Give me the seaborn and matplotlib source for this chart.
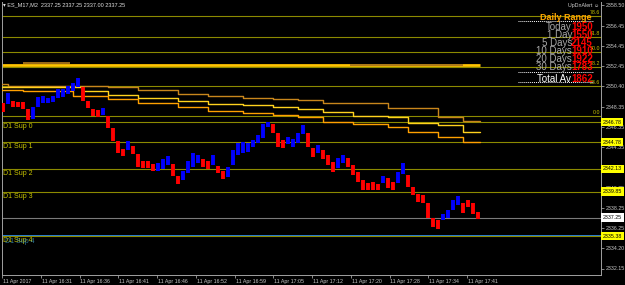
import matplotlib
matplotlib.use("Agg")
import matplotlib.pyplot as plt
import matplotlib.transforms as mtrans
from matplotlib.lines import Line2D
import seaborn as sns

# ---------------- data ----------------
bar_high = [2348.7, 2349.7, 2348.9, 2348.8, 2348.8, 2348.1, 2348.3, 2349.3, 2349.4, 2349.2,
            2349.4, 2350.1, 2350.1, 2350.4, 2350.7, 2351.2, 2350.3, 2348.9, 2348.1, 2348.0,
            2348.2, 2347.4, 2346.2, 2344.9, 2344.1, 2344.9, 2344.4, 2343.6, 2342.9, 2342.9,
            2342.6, 2342.7, 2343.1, 2343.4, 2342.6, 2341.4, 2341.9, 2342.9, 2343.7, 2343.5,
            2343.1, 2342.9, 2343.5, 2342.4, 2341.9, 2342.3, 2344.0, 2344.7, 2344.8, 2344.7,
            2345.0, 2345.5, 2346.6, 2346.8, 2346.6, 2345.7, 2345.0, 2345.3, 2345.1, 2345.7,
            2346.5, 2345.7, 2344.2, 2344.5, 2344.0, 2343.5, 2342.8, 2343.2, 2343.5, 2343.2,
            2342.5, 2341.8, 2341.0, 2340.7, 2340.8, 2340.6, 2341.4, 2341.2, 2340.8, 2341.8,
            2342.7, 2341.5, 2340.3, 2339.6, 2339.5, 2338.7, 2337.2, 2337.0, 2337.6, 2338.0,
            2339.0, 2339.4, 2338.7, 2339.0, 2338.7, 2337.8]
bar_low = [2347.8, 2348.6, 2348.3, 2348.3, 2348.1, 2347.0, 2347.1, 2348.3, 2348.7, 2348.7,
           2348.8, 2349.2, 2349.3, 2349.6, 2349.9, 2350.3, 2348.9, 2348.2, 2347.4, 2347.3,
           2347.5, 2346.2, 2344.9, 2343.7, 2343.4, 2344.0, 2343.6, 2342.3, 2342.2, 2342.2,
           2341.9, 2341.9, 2342.1, 2342.5, 2341.4, 2340.6, 2341.0, 2341.7, 2342.3, 2342.7,
           2342.3, 2342.1, 2342.5, 2341.7, 2341.1, 2341.3, 2342.5, 2343.5, 2343.7, 2343.8,
           2344.3, 2344.7, 2345.2, 2346.3, 2345.7, 2344.3, 2344.2, 2344.6, 2344.3, 2344.7,
           2345.6, 2344.3, 2343.3, 2343.7, 2343.1, 2342.5, 2341.8, 2342.2, 2342.7, 2342.3,
           2341.5, 2340.8, 2340.0, 2340.0, 2340.0, 2340.0, 2340.7, 2340.2, 2340.0, 2340.7,
           2341.6, 2340.3, 2339.5, 2338.8, 2338.7, 2337.2, 2336.3, 2336.1, 2337.0, 2337.2,
           2338.0, 2338.5, 2337.7, 2338.3, 2337.6, 2337.1]
bar_up = [0, 1, 0, 0, 0, 0, 1, 1, 1, 1,
          1, 1, 1, 1, 1, 1, 0, 0, 0, 0,
          1, 0, 0, 0, 0, 1, 0, 0, 0, 0,
          0, 1, 1, 1, 0, 0, 1, 1, 1, 1,
          0, 0, 1, 0, 0, 1, 1, 1, 1, 1,
          1, 1, 1, 1, 0, 0, 0, 1, 1, 1,
          1, 0, 0, 1, 0, 0, 0, 1, 1, 0,
          0, 0, 0, 0, 0, 0, 1, 0, 0, 1,
          1, 0, 0, 0, 0, 0, 0, 0, 1, 1,
          1, 1, 0, 0, 0, 0]

line_a_start = [-0.5, 1, 21, 27, 35, 41, 48, 54, 59, 64, 77, 87, 92]
line_a_level = [2350.6, 2350.4, 2350.3, 2350.0, 2349.6, 2349.4, 2349.2, 2349.1, 2349.0,
                2348.7, 2348.2, 2347.3, 2346.9]
line_b_start = [-0.5, 2, 16, 21, 27, 35, 41, 48, 54, 59, 64, 70, 77, 81, 87, 92]
line_b_level = [2350.3, 2350.35, 2349.9, 2349.5, 2349.2, 2348.9, 2348.6, 2348.5, 2348.3,
                2348.1, 2347.8, 2347.4, 2347.3, 2346.7, 2346.5, 2345.8]
line_c_start = [-0.5, 4, 14, 21, 27, 35, 41, 48, 54, 59, 64, 70, 77, 81, 87, 92]
line_c_level = [2350.0, 2349.9, 2349.4, 2349.1, 2348.7, 2348.3, 2347.9, 2347.7, 2347.5,
                2347.3, 2346.8, 2346.65, 2346.35, 2345.8, 2345.3, 2344.8]
lines_end = 95.5

day_high_level = 2352.55
brown_segments = [(4, 13.5, 2352.68), (69.5, 92, 2352.5)]

fib_levels = [2357.4, 2355.3, 2353.8, 2352.3, 2350.4, 2347.4]
fib_labels = ["78.6", "61.8", "50.0", "38.2", "23.6", "0.0"]

sup_levels = [2346.78, 2344.78, 2342.13, 2339.85, 2335.38]
sup_labels = ["D1 Sup 0", "D1 Sup 1", "D1 Sup 2", "D1 Sup 3", "D1 Sup 4"]
sup_tags = ["2346.78", "2344.78", "2342.13", "2339.85", "2335.38"]

current_price = 2337.25
current_tag = "2337.25"

y_ticks = [2358.50, 2356.45, 2354.45, 2352.45, 2350.40, 2348.35, 2346.35, 2344.35,
           2342.30, 2340.25, 2338.25, 2336.25, 2334.20, 2332.15]
x_tick_labels = ["11 Apr 2017", "11 Apr 16:31", "11 Apr 16:36", "11 Apr 16:41",
                 "11 Apr 16:46", "11 Apr 16:52", "11 Apr 16:59", "11 Apr 17:05",
                 "11 Apr 17:12", "11 Apr 17:20", "11 Apr 17:28", "11 Apr 17:34",
                 "11 Apr 17:41"]

range_labels = ["Today", "1 Day", "5 Days", "10 Days", "20 Days", "30 Days"]
range_values = ["1950", "1550", "2145", "1910", "1922", "1783"]
total_label = "Total Av"
total_value = "1862"

title_text = "\u25be ES_M17,M2  2337.25 2337.25 2337.00 2337.25"
alert_text = "UpDnAlert \u263a"

# ---------------- style ----------------
sns.set_theme(style="dark")
plt.rcParams['font.family'] = ['Liberation Sans', 'DejaVu Sans']

W, H = 625, 285
fig = plt.figure(figsize=(W / 100, H / 100), dpi=100, facecolor='black')
ax = fig.add_axes([2 / W, 1 - 275 / H, 599 / W, 273 / H])
ax.set_facecolor('black')

def fx(px):
    return px / W

def fy(py):
    return 1 - py / H

olive = '#8c8a00'
label_yel = '#c8c400'
axis_gray = '#a0a0a0'

# horizontal levels
for lv in fib_levels:
    ax.axhline(lv, color=olive, lw=0.8, zorder=1)
for lv in sup_levels:
    ax.axhline(lv, color=olive, lw=0.8, zorder=1)
ax.axhline(sup_levels[-1] + 0.12, color='#2a7fd0', lw=0.7, zorder=1)
ax.axhline(current_price, color='#7a7a7a', lw=0.8, zorder=1)

# day-high line
ax.plot([-0.5, lines_end], [day_high_level, day_high_level], color='#ffc400', lw=2.0, zorder=2,
        solid_capstyle='butt')
for s, e, lv in brown_segments:
    ax.plot([s, e], [lv, lv], color='#a8741a', lw=1.3, zorder=3, solid_capstyle='butt')

# stepped indicator lines
for starts, levels, col in [(line_a_start, line_a_level, '#c8861c'),
                            (line_b_start, line_b_level, '#ffd21e'),
                            (line_c_start, line_c_level, '#ffa000')]:
    xs = list(starts) + [lines_end]
    ys = list(levels) + [levels[-1]]
    sns.lineplot(x=xs, y=ys, ax=ax, color=col, lw=1.0, drawstyle='steps-post',
                 estimator=None, sort=False, zorder=3)

# price bars
idx = list(range(len(bar_high)))
cols = ['#0000ff' if u else '#ff0000' for u in bar_up]
ax.vlines(idx, bar_low, bar_high, colors=cols, linewidth=2.8, zorder=4)

# axes limits
ax.set_xlim(-0.1, 119.7)
ax.set_ylim(2331.5, 2358.8)

# spines
for side in ['left', 'bottom', 'right', 'top']:
    ax.spines[side].set_color(axis_gray)
    ax.spines[side].set_linewidth(0.7)
ax.spines['top'].set_visible(False)

# y ticks on right
ax.yaxis.tick_right()
ax.set_yticks(y_ticks)
ax.set_yticklabels([f"{v:.2f}" for v in y_ticks])
ax.tick_params(axis='y', which='both', right=True, left=False, labelright=True, labelleft=False,
               direction='out', length=2, width=0.6, color=axis_gray, labelsize=3.8,
               labelcolor='#c8c8c8', pad=1.5)

# x ticks
x_pos = [-0.1 + 7.75 * k for k in range(len(x_tick_labels))]
ax.set_xticks(x_pos)
ax.set_xticklabels(x_tick_labels, ha='left')
ax.tick_params(axis='x', which='both', bottom=True, direction='out', length=2, width=0.6,
               color=axis_gray, labelsize=3.8, labelcolor='#c8c8c8', pad=1.0)
off = mtrans.ScaledTranslation(1 / 100, 0, fig.dpi_scale_trans)
for lbl in ax.get_xticklabels():
    lbl.set_transform(lbl.get_transform() + off)
ax.grid(False)

blend = mtrans.blended_transform_factory(ax.transAxes, ax.transData)

# fib labels
for lv, lb in zip(fib_levels, fib_labels):
    ax.text(0.998, lv + 0.08, lb, transform=blend, ha='right', va='bottom', fontsize=3.8,
            color=label_yel, zorder=5)

# sup labels
for lv, lb in zip(sup_levels, sup_labels):
    ax.text(0.002, lv - 0.12, lb, transform=blend, ha='left', va='top', fontsize=5,
            color=label_yel, zorder=5)
ax.text(0.005, sup_levels[-1] - 0.14, sup_labels[-1], transform=blend, ha='left', va='top',
        fontsize=5, color='#3fa7d6', alpha=0.7, zorder=5)

# price tags
for lv, tg in zip(sup_levels, sup_tags):
    ax.text(1.003, lv, tg, transform=blend, ha='left', va='center', fontsize=3.8, color='black',
            bbox=dict(boxstyle='square,pad=0.3', fc='#ffff00', ec='none'), zorder=6, clip_on=False)
ax.text(1.003, current_price, current_tag, transform=blend, ha='left', va='center', fontsize=3.8,
        color='black', bbox=dict(boxstyle='square,pad=0.3', fc='#ffffff', ec='none'), zorder=6,
        clip_on=False)

# title and alert
fig.text(fx(3), fy(5), title_text, ha='left', va='center', fontsize=4, color='#e0e0e0')
fig.text(fx(599), fy(5), alert_text, ha='right', va='center', fontsize=3.8, color='#d0d0d0')

# daily range panel
fig.text(fx(592), fy(17), "Daily Range", ha='right', va='center', fontsize=6.5,
         fontweight='bold', color='#ffa500')
for k, (lb, vl) in enumerate(zip(range_labels, range_values)):
    yy = 27 + 8.1 * k
    fig.text(fx(572), fy(yy), lb, ha='right', va='center', fontsize=7, color='#a8a8a8')
    fig.text(fx(571), fy(yy), vl, ha='left', va='center', fontsize=7, fontweight='bold',
             color='#ff0000')
fig.text(fx(571), fy(79), total_label, ha='right', va='center', fontsize=7, color='white')
fig.text(fx(571), fy(79), total_value, ha='left', va='center', fontsize=7, fontweight='bold',
         color='#ff0000')
for yy in [21, 72, 82]:
    fig.add_artist(Line2D([fx(518), fx(593)], [fy(yy), fy(yy)], transform=fig.transFigure,
                          color='white', lw=0.7, linestyle=(0, (1, 1))))

fig.savefig("out.png", dpi=100, facecolor='black')
